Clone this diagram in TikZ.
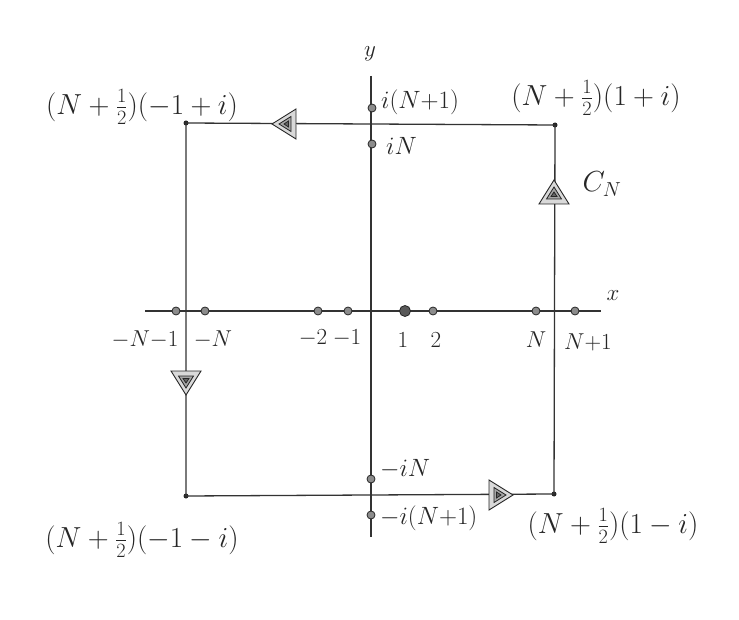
\RequirePackage{fix-cm}
\documentclass[tikz,border=0pt]{standalone}
\usetikzlibrary{calc}
\begin{document}
\begin{tikzpicture}[x=1pt,y=-1pt,
  ln/.style={draw=black!80,line width=1.3pt},
  pt/.style={circle,draw=black!85,fill=black!45,line width=0.8pt,inner sep=0pt,minimum size=8pt},
  bigpt/.style={pt,minimum size=11pt,fill=black!65},
  cpt/.style={circle,fill=black!85,inner sep=0pt,minimum size=5pt},
  big/.style={font=\fontsize{29}{32}\selectfont,text=black!85,inner sep=0pt},
  lab/.style={font=\fontsize{23}{26}\selectfont,text=black!85,inner sep=0pt},
  ilab/.style={font=\fontsize{25}{28}\selectfont,text=black!85,inner sep=0pt,anchor=west},
  arrowtri/.pic={
    \draw[black!85,line width=0.9pt,fill=black!15] (14,0) -- (-10,15) -- (-10,-15) -- cycle;
    \draw[black!85,line width=0.8pt,fill=black!35] (7,0) -- (-5,7.5) -- (-5,-7.5) -- cycle;
    \draw[black!85,line width=0.8pt,fill=black!60] (2,0) -- (-2.5,3) -- (-2.5,-3) -- cycle;
  }]
\useasboundingbox (0,0) rectangle (739,620);
\fill[white] (0,0) rectangle (739,620);
% axes
\coordinate (xl) at (145,311);
\coordinate (xr) at (601,311);
\coordinate (yt) at (371,76);
\coordinate (yb) at (371,537);
\draw[ln] (xl) -- (xr);
\draw[ln] (yt) -- (yb);
\node[lab] (ylab) at (370,54) {$y$};
\node[lab] (xlab) at (613,296) {$x$};
% square corners
\node[cpt] (tl) at (186,123) {};
\node[cpt] (tr) at (555,125) {};
\node[cpt] (bl) at (186,496) {};
\node[cpt] (br) at (554,494) {};
\draw[ln] (tr.center) -- (tl.center) -- (bl.center) -- (br.center) -- (tr.center);
% arrows on contour
\pic[rotate=180] at (286,124) {arrowtri};
\pic[rotate=90] at (554,194) {arrowtri};
\pic[rotate=-90] at (186,381) {arrowtri};
\pic at (499,495) {arrowtri};
\node[big] (cn) at (602,184) {$C_N$};
% points on real axis
\node[pt] (pNm1) at (176,311) {};
\node[pt] (pmN) at (205,311) {};
\node[pt] (pm2) at (318,311) {};
\node[pt] (pm1) at (348,311) {};
\node[bigpt] (p1) at (405,311) {};
\node[pt] (p2) at (433,311) {};
\node[pt] (pN) at (536,311) {};
\node[pt] (pNp1) at (575,311) {};
\node[lab] at (145,340) {${-}N{-}1$};
\node[lab] at (213,340) {${-}N$};
\node[lab] at (313,338) {${-}2$};
\node[lab] at (347,338) {${-}1$};
\node[lab] at (403,340) {$1$};
\node[lab] at (436,340) {$2$};
\node[lab] at (536,340) {$N$};
\node[lab] at (588,342) {$N{+}1$};
% points on imaginary axis
\node[pt] (qNp1) at (372,108) {};
\node[pt] (qN) at (372,144) {};
\node[pt] (qmN) at (371,479) {};
\node[pt] (qmNp1) at (371,515) {};
\node[ilab] at (381,102) {$i(N{+}1)$};
\node[ilab] at (386,146) {$iN$};
\node[ilab] at (380,469) {${-}iN$};
\node[ilab] at (380,518) {${-}i(N{+}1)$};
% corner labels
\node[big] (ltl) at (142,107) {$(N+\frac12)(-1+i)$};
\node[big] (ltr) at (596,98) {$(N+\frac12)(1+i)$};
\node[big] (lbl) at (142,540) {$(N+\frac12)(-1-i)$};
\node[big] (lbr) at (613,526) {$(N+\frac12)(1-i)$};
\end{tikzpicture}
\end{document}
